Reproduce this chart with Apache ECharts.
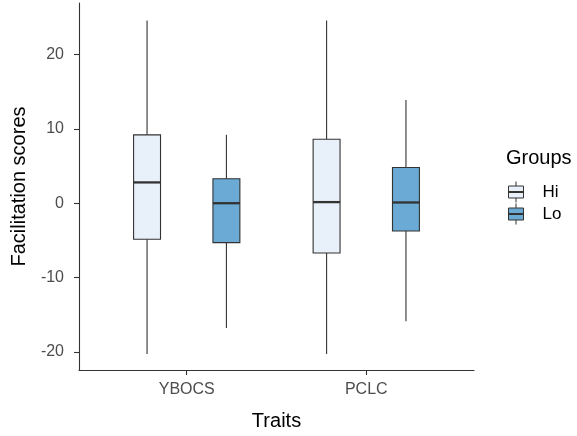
<!DOCTYPE html>
<html>
<head>
<meta charset="utf-8">
<script src="https://cdn.jsdelivr.net/npm/echarts@6/dist/echarts.min.js"></script>
<style>
  html, body { margin: 0; padding: 0; background: #fff; }
  #chart { width: 577px; height: 436px; }
</style>
</head>
<body>
<div id="chart"></div>
<script>
// traits on the x axis
var categories = ['YBOCS', 'PCLC'];
var groupNames = ['Hi', 'Lo'];
// box stats per trait: [min, Q1, median, Q3, max]
var hiStats = [
    [-20.3, -4.85, 2.8, 9.2, 24.6],
    [-20.3, -6.7, 0.15, 8.6, 24.6]
];
var loStats = [
    [-16.8, -5.3, 0.0, 3.3, 9.2],
    [-15.9, -3.75, 0.1, 4.8, 13.9]
];
var yTicks = [-20, -10, 0, 10, 20];

var font = 'Liberation Sans, Arial, sans-serif';
var ink = '#333333';

function toRows(stats) {
    var rows = [];
    for (var i = 0; i < stats.length; i++) {
        rows.push([i + 1].concat(stats[i]));
    }
    return rows;
}

// dodge offset and box width, in x-axis units
function boxRenderer(offset, fill) {
    return function (params, api) {
        var xv = api.value(0);
        var unit = api.size([1, 0])[0];
        var x = api.coord([xv, 0])[0] + unit * offset;
        var w = unit * 0.15;
        var yMin = api.coord([xv, api.value(1)])[1];
        var yQ1 = api.coord([xv, api.value(2)])[1];
        var yMed = api.coord([xv, api.value(3)])[1];
        var yQ3 = api.coord([xv, api.value(4)])[1];
        var yMax = api.coord([xv, api.value(5)])[1];
        var line = { stroke: ink, lineWidth: 1.1 };
        return {
            type: 'group',
            children: [
                { type: 'line', shape: { x1: x, y1: yMax, x2: x, y2: yQ3 }, style: line },
                { type: 'line', shape: { x1: x, y1: yQ1, x2: x, y2: yMin }, style: line },
                { type: 'rect', shape: { x: x - w / 2, y: yQ3, width: w, height: yQ1 - yQ3 },
                  style: { fill: fill, stroke: ink, lineWidth: 1.1 } },
                { type: 'line', shape: { x1: x - w / 2, y1: yMed, x2: x + w / 2, y2: yMed },
                  style: { stroke: ink, lineWidth: 2.3 } }
            ]
        };
    };
}

var colors = ['#e8f0f9', '#6aaad4'];
var keyIcon = 'path://M7.5,0V4.5M7.5,16.5V21M0,4.5H15V16.5H0ZM0,10H15V11H0Z';

var myChart = echarts.init(document.getElementById('chart'), null, { renderer: 'canvas' });
var option = {
    animation: false,
    title: {
        text: 'Groups',
        left: 506,
        top: 148,
        padding: 0,
        textStyle: { fontFamily: font, fontSize: 20, fontWeight: 'normal', color: '#000' }
    },
    legend: {
        orient: 'vertical',
        left: 508,
        top: 181,
        padding: 0,
        itemWidth: 15,
        itemHeight: 21,
        itemGap: 0,
        data: [
            { name: groupNames[0], icon: keyIcon, itemStyle: { color: colors[0], borderColor: ink, borderWidth: 1 } },
            { name: groupNames[1], icon: keyIcon, itemStyle: { color: colors[1], borderColor: ink, borderWidth: 1 } }
        ],
        textStyle: { fontFamily: font, fontSize: 17, color: '#000', padding: [2, 0, 0, 14] }
    },
    grid: {
        left: 79,
        right: 103,
        top: 3,
        bottom: 66,
        outerBoundsMode: 'none'
    },
    xAxis: {
        type: 'value',
        min: 0.4,
        max: 2.6,
        name: 'Traits',
        nameLocation: 'middle',
        nameGap: 41,
        nameTextStyle: { fontFamily: font, fontSize: 20, color: '#000' },
        splitLine: { show: false },
        axisLine: { onZero: false, lineStyle: { color: ink, width: 1.1 } },
        axisTick: { customValues: [1, 2], length: 5, lineStyle: { color: ink, width: 1.1 } },
        axisLabel: {
            customValues: [1, 2],
            margin: 12,
            fontFamily: font,
            fontSize: 16,
            color: '#4d4d4d',
            formatter: function (v) { return categories[Math.round(v) - 1]; }
        }
    },
    yAxis: {
        type: 'value',
        min: -22.45,
        max: 26.95,
        name: 'Facilitation scores',
        nameLocation: 'middle',
        nameGap: 49,
        nameTextStyle: { fontFamily: font, fontSize: 20, color: '#000' },
        splitLine: { show: false },
        axisLine: { show: true, onZero: false, lineStyle: { color: ink, width: 1.1 } },
        axisTick: { show: true, customValues: yTicks, length: 5, lineStyle: { color: ink, width: 1.1 } },
        axisLabel: {
            customValues: yTicks,
            margin: 15,
            fontFamily: font,
            fontSize: 16,
            color: '#4d4d4d'
        }
    },
    series: [
        {
            name: groupNames[0],
            type: 'custom',
            renderItem: boxRenderer(-0.221, colors[0]),
            itemStyle: { color: colors[0] },
            encode: { x: 0, y: [1, 2, 3, 4, 5] },
            data: toRows(hiStats)
        },
        {
            name: groupNames[1],
            type: 'custom',
            renderItem: boxRenderer(0.221, colors[1]),
            itemStyle: { color: colors[1] },
            encode: { x: 0, y: [1, 2, 3, 4, 5] },
            data: toRows(loStats)
        }
    ]
};
myChart.setOption(option);
</script>
</body>
</html>
